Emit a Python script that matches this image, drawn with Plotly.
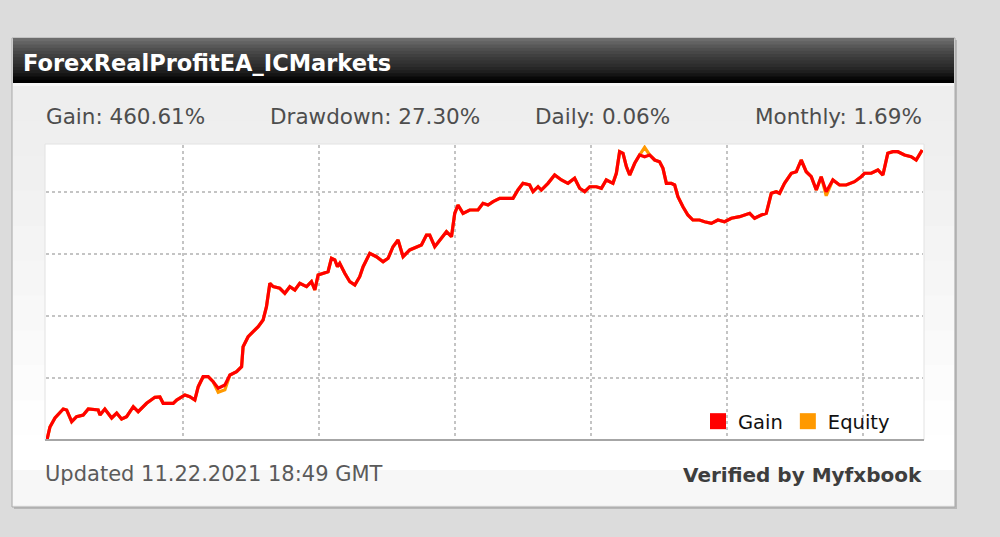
import plotly.graph_objects as go

# ---------------- data ----------------
title_text = "ForexRealProfitEA_ICMarkets"
stat_labels = ["Gain: 460.61%", "Drawdown: 27.30%", "Daily: 0.06%", "Monthly: 1.69%"]
updated_text = "Updated 11.22.2021 18:49 GMT"
verified_text = "Verified by Myfxbook"
series_names = ["Gain", "Equity"]

days = [0, 2.2, 5.9, 12.0, 14.5, 18.2, 21.8, 26.7, 30.4, 37.7, 39.0, 42.6, 47.6, 51.3, 54.9, 58.6,
        63.5, 67.1, 73.3, 79.4, 83.1, 85.5, 92.9, 95.4, 101.5, 105.1, 108.8, 111.3, 114.9, 118.6,
        122.3, 126.0, 130.9, 134.6, 139.5, 143.2, 144.3, 148.0, 151.7, 155.4, 159.0, 161.5, 164.0,
        166.4, 171.3, 175.0, 178.7, 182.4, 186.0, 191.0, 194.6, 197.1, 199.5, 203.2, 206.8, 209.3,
        211.8, 213.7, 215.4, 219.1, 222.8, 226.5, 230.1, 232.6, 237.5, 242.4, 247.3, 251.0, 254.6,
        258.3, 262.0, 266.9, 271.8, 275.5, 279.2, 281.6, 285.3, 290.2, 293.9, 297.6, 300.0, 302.4,
        306.1, 311.0, 317.1, 320.8, 324.5, 328.2, 333.1, 338.0, 342.9, 346.5, 350.2, 355.1, 357.6,
        361.3, 363.7, 368.6, 373.5, 378.5, 383.3, 388.2, 391.9, 395.6, 399.3, 404.2, 407.9, 411.5,
        416.4, 418.9, 421.3, 423.8, 426.3, 428.7, 432.4, 436.0, 439.7, 443.4, 447.1, 450.7, 453.2,
        455.7, 459.3, 461.8, 464.2, 467.9, 471.5, 475.2, 480.1, 483.8, 488.8, 493.6, 498.5, 503.5,
        509.6, 517.0, 520.6, 525.5, 529.2, 532.9, 536.5, 539.0, 542.6, 547.6, 551.3, 554.9, 558.6,
        562.3, 566.0, 569.6, 573.3, 578.2, 583.1, 588.0, 594.1, 599.0, 601.5, 606.4, 611.3, 615.0,
        618.6, 622.3, 626.0, 630.9, 635.8, 639.5, 641.9, 643.9]

gain_pct = [0, 21, 35.5, 50, 48.4, 29.5, 37.6, 40.3, 50, 48.4, 40.3, 50, 35.5, 43.5, 33.9, 37.6,
            53.7, 45.6, 59.2, 68.9, 69.4, 59.2, 59.2, 64.5, 72.6, 69.8, 64.5, 86, 102.1, 102.1,
            94, 83.4, 88.7, 104.8, 110.2, 118.2, 150.5, 166.6, 174.7, 182.7, 193.5, 215, 252.7,
            247.3, 244.7, 236.6, 247.3, 241.9, 252.7, 247.3, 255.3, 241.9, 266.1, 268.9, 271.5, 293.1,
            290.3, 279.5, 285, 268.9, 255.3, 250, 263.4, 279.5, 301.1, 295.6, 287.6, 293.1, 311.8,
            322.6, 295.6, 306.5, 311.8, 314.5, 330.6, 330.6, 311.8, 325.3, 336, 327.9, 365.6, 379,
            365.6, 371, 371, 381.8, 379, 384.4, 389.8, 389.8, 389.8, 403.2, 414, 411.3, 400.5,
            408.5, 403.2, 414, 427.4, 419.4, 414, 422.1, 406, 400.5, 408.5, 408.5, 406, 419.4,
            414, 430.2, 465, 462.4, 440.8, 427.4, 446.3, 459.7, 456.9, 459.7, 451.6, 448.9, 438.2,
            414, 414, 411.3, 392.4, 376.3, 362.9, 354.8, 354.8, 352.1, 349.5, 354.8, 352.1, 357.6,
            360.2, 365.6, 357.6, 362.9, 365.6, 397.9, 400.5, 397.9, 414, 430.2, 432.7, 451.6, 432.7,
            424.7, 403.2, 424.7, 400.5, 419.4, 411.3, 411.3, 416.6, 424.7, 430.2, 430.2, 435.5, 427.4,
            462.4, 465, 465, 459.7, 456.9, 451.6, 459.7, 467.7]

# equity follows gain except where it visibly departs from it
equity_change_idx = [31, 32, 116, 150]
equity_change_val = [77.0, 81.0, 472.0, 394.0]

# ---------------- helpers ----------------
W, H = 1000, 537
def X(p):
    return p / W
def Y(p):
    return 1 - p / H

n = min(len(days), len(gain_pct))
days = days[:n]
gain_pct = gain_pct[:n]
equity_pct = list(gain_pct)
for i, v in zip(equity_change_idx, equity_change_val):
    if i < n:
        equity_pct[i] = v

FONT = "DejaVu Sans"
fig = go.Figure()

fig.add_trace(go.Scatter(x=days, y=equity_pct, mode="lines", name=series_names[1],
                         line=dict(color="#ff9900", width=3.2), showlegend=False, hoverinfo="skip"))
fig.add_trace(go.Scatter(x=days, y=gain_pct, mode="lines", name=series_names[0],
                         line=dict(color="#ff0000", width=3.2), showlegend=False))
# legend entries (square swatches)
fig.add_trace(go.Scatter(x=[None], y=[None], mode="markers", name=series_names[0],
                         marker=dict(symbol="square", size=17, color="#ff0000")))
fig.add_trace(go.Scatter(x=[None], y=[None], mode="markers", name=series_names[1],
                         marker=dict(symbol="square", size=17, color="#ff9900")))

shapes = []
# panel shadow + border
shapes.append(dict(type="rect", xref="paper", yref="paper", x0=X(14), x1=X(957), y0=Y(509), y1=Y(40),
                   fillcolor="#b8b8b8", line=dict(width=0), layer="below"))
shapes.append(dict(type="rect", xref="paper", yref="paper", x0=X(12), x1=X(955), y0=Y(507), y1=Y(38),
                   fillcolor="#f0f0f0", line=dict(color="#a8a8a8", width=1), layer="below"))
# body gradient
body_cols = ["#eeeeee", "#efefef", "#f0f0f0", "#f2f2f2", "#f4f4f4", "#f6f6f6", "#f8f8f8",
             "#fafafa", "#fcfcfc", "#fefefe", "#ffffff", "#f7f7f7"]
top, bot = 86, 505
step = (bot - top) / len(body_cols)
for k, c in enumerate(body_cols):
    shapes.append(dict(type="rect", xref="paper", yref="paper", x0=X(13), x1=X(954),
                       y0=Y(min(bot, top + (k + 1) * step + 1)), y1=Y(top + k * step),
                       fillcolor=c, line=dict(width=0), layer="below"))
# header gradient
head_cols = ["#6c6c6c", "#626262", "#585858", "#4f4f4f", "#474747", "#404040", "#393939",
             "#333333", "#2d2d2d", "#262626", "#1e1e1e", "#141414", "#080808", "#000000"]
htop, hbot = 38, 83
hs = (hbot - htop) / len(head_cols)
for k, c in enumerate(head_cols):
    shapes.append(dict(type="rect", xref="paper", yref="paper", x0=X(13), x1=X(954),
                       y0=Y(min(hbot, htop + (k + 1) * hs + 1)), y1=Y(htop + k * hs),
                       fillcolor=c, line=dict(width=0), layer="below"))
shapes.append(dict(type="rect", xref="paper", yref="paper", x0=X(13), x1=X(954), y0=Y(86), y1=Y(83),
                   fillcolor="#f6f6f6", line=dict(width=0), layer="below"))
# plot area
shapes.append(dict(type="rect", xref="paper", yref="paper", x0=X(45), x1=X(924), y0=Y(440), y1=Y(144),
                   fillcolor="#ffffff", line=dict(color="#e2e2e2", width=1), layer="below"))
# bottom axis line
shapes.append(dict(type="line", xref="paper", yref="paper", x0=X(45), x1=X(924), y0=Y(440), y1=Y(440),
                   line=dict(color="#a6a6a6", width=2), layer="above"))
fig.update_layout(shapes=shapes)

ann = []
ann.append(dict(text="<b>" + title_text + "</b>", x=X(21), y=Y(63), xref="paper", yref="paper",
                xanchor="left", yanchor="middle", showarrow=False,
                font=dict(family=FONT, size=22.5, color="#ffffff")))
stat_pos = [(44, "left"), (268, "left"), (533, "left"), (924, "right")]
for (xp, anc), t in zip(stat_pos, stat_labels):
    ann.append(dict(text=t, x=X(xp), y=Y(117), xref="paper", yref="paper", xanchor=anc,
                    yanchor="middle", showarrow=False,
                    font=dict(family=FONT, size=21.5, color="#4d4d4d")))
ann.append(dict(text=updated_text, x=X(43), y=Y(474), xref="paper", yref="paper", xanchor="left",
                yanchor="middle", showarrow=False, font=dict(family=FONT, size=21, color="#5a5a5a")))
ann.append(dict(text="<b>" + verified_text + "</b>", x=X(924), y=Y(475), xref="paper", yref="paper",
                xanchor="right", yanchor="middle", showarrow=False,
                font=dict(family=FONT, size=20, color="#3d3d3d")))
fig.update_layout(annotations=ann)

grid = dict(showgrid=True, gridcolor="#c4c4c4", griddash="dot", gridwidth=1.5,
            showticklabels=False, ticks="", zeroline=False, showline=False, fixedrange=True)
fig.update_xaxes(range=[-0.7, 644.5], dtick=100, tick0=0,
                 domain=[X(46), X(923)], **grid)
fig.update_yaxes(range=[0, 475.8], dtick=100, tick0=0,
                 domain=[Y(440), Y(145)], **grid)

fig.update_layout(
    width=W, height=H, autosize=False,
    margin=dict(l=0, r=0, t=0, b=0),
    paper_bgcolor="#dcdcdc", plot_bgcolor="rgba(0,0,0,0)",
    legend=dict(orientation="h", x=X(895), xanchor="right", y=Y(441), yanchor="bottom",
                bgcolor="rgba(255,255,255,0)", font=dict(family=FONT, size=19.5, color="#111111"),
                itemwidth=30, tracegroupgap=0),
    showlegend=True,
)

fig.write_html("out.html", config={"displayModeBar": False},
               post_script="document.body.style.margin='0';document.body.style.padding='0';"
                           "document.body.style.overflow='hidden';")
